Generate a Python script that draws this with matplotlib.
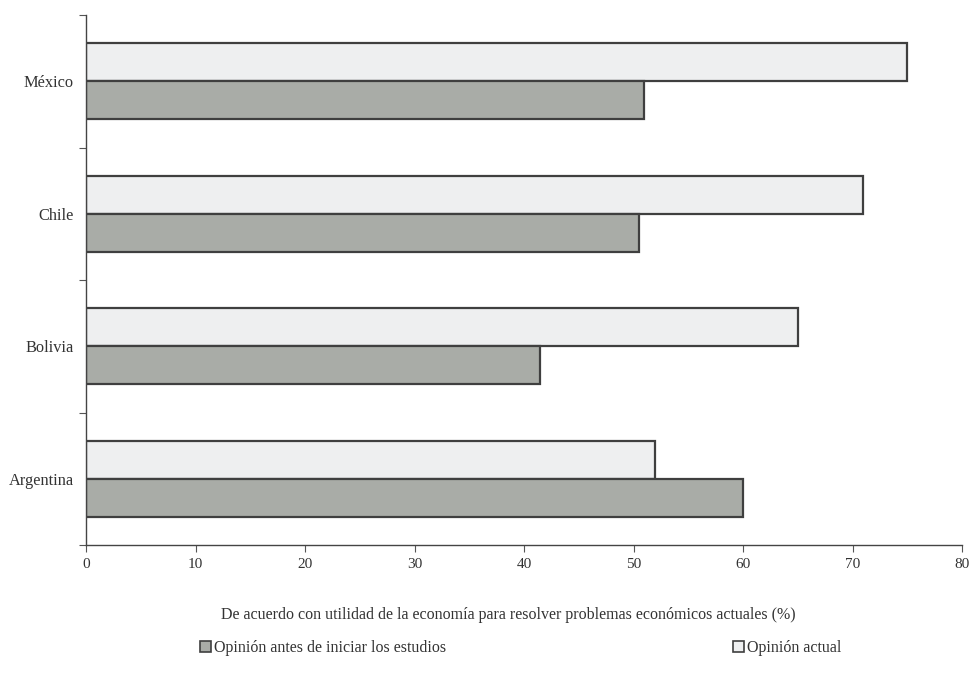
import matplotlib
matplotlib.use("Agg")
import matplotlib.pyplot as plt
import numpy as np
from matplotlib.patches import Patch

categories = ["Argentina", "Bolivia", "Chile", "México"]
antes = [60, 41.5, 50.5, 51]
actual = [52, 65, 71, 75]
xticks = [0, 10, 20, 30, 40, 50, 60, 70, 80]
xlabel = "De acuerdo con utilidad de la economía para resolver problemas económicos actuales (%)"
leg_antes = "Opinión antes de iniciar los estudios"
leg_actual = "Opinión actual"

plt.rcParams['font.family'] = ['Liberation Serif', 'DejaVu Serif']

fig = plt.figure(figsize=(9.72, 6.85), dpi=100)
ax = fig.add_axes([86/972, 1-545/685, (962-86)/972, (545-15)/685])

y = np.arange(len(categories))
h = 0.287
c_antes = "#a9aca7"
c_actual = "#eeeff0"
edge = "#3f3f3f"
ax.barh(y + h/2, actual, height=h, color=c_actual, edgecolor=edge, linewidth=1.6)
ax.barh(y - h/2, antes, height=h, color=c_antes, edgecolor=edge, linewidth=1.6)

ax.set_xlim(0, 80)
ax.set_ylim(-0.5, len(categories) - 0.5)
ax.set_xticks(xticks)
ax.set_xticklabels([str(t) for t in xticks], fontsize=11, color="#333333")
ax.set_yticks(np.arange(-0.5, len(categories), 1.0))
ax.set_yticklabels([])
ax.set_yticks(y, minor=True)
ax.set_yticklabels(categories, minor=True, fontsize=11.8, color="#333333")
ax.tick_params(axis='y', which='minor', length=0, pad=9)
ax.tick_params(axis='y', which='major', length=5, width=0.8, color="#555555")
ax.tick_params(axis='x', length=5, width=0.8, color="#555555", pad=4)
for s in ["top", "right"]:
    ax.spines[s].set_visible(False)
for s in ["left", "bottom"]:
    ax.spines[s].set_color("#444444")
    ax.spines[s].set_linewidth(1.0)

ax.set_xlabel(xlabel, fontsize=11.5, color="#333333")
ax.xaxis.set_label_coords((508 - 86) / 876, -(615 - 545) / 530)
ax.xaxis.label.set_va("center")

h1 = Patch(facecolor=c_antes, edgecolor=edge, linewidth=1.2)
h2 = Patch(facecolor=c_actual, edgecolor=edge, linewidth=1.2)
l1 = fig.legend([h1], [leg_antes], loc="center left", bbox_to_anchor=(200/972, 1-648/685),
                frameon=False, fontsize=11.5, handlelength=0.7, handleheight=0.7, handletextpad=0.2,
                borderaxespad=0, borderpad=0)
l2 = fig.legend([h2], [leg_actual], loc="center left", bbox_to_anchor=(733/972, 1-648/685),
                frameon=False, fontsize=11.5, handlelength=0.7, handleheight=0.7, handletextpad=0.2,
                borderaxespad=0, borderpad=0)
for l in (l1, l2):
    for t in l.get_texts():
        t.set_color("#333333")

fig.savefig("out.png", dpi=100, facecolor="white")
